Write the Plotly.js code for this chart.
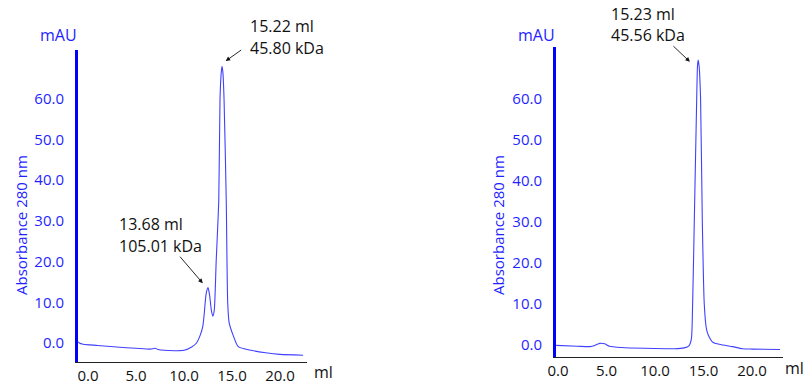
<!DOCTYPE html>
<html><head><meta charset="utf-8">
<script src="https://cdn.plot.ly/plotly-3.0.1.min.js"></script>
<style>html,body{margin:0;padding:0;background:#fff}#plot{width:806px;height:385px}</style>
</head><body><div id="plot"></div>
<script>
// Left chromatogram (elution volume ml, absorbance mAU)
const leftVolume = [-1.0,-0.9,-0.5,1,3,5,6.5,7.0,7.3,9,10.0,10.8,11.3,11.7,11.95,12.1,12.3,12.5,12.65,12.85,13.0,13.15,13.35,13.62,13.75,13.88,13.96,14.05,14.17,14.4,14.55,14.7,15.1,15.65,17,18.5,20,22.4];
const leftAbs    = [0.3,0.0,-0.3,-0.6,-1.0,-1.3,-1.5,-1.3,-1.6,-1.9,-1.8,-1.0,0.0,2,4,7,12,13.6,12,8,6.6,8,20,35,60,66.5,68,66.5,60,35,10,5,2,-0.9,-1.8,-2.4,-2.8,-3.0];
// Right chromatogram
const rightVolume = [-0.2,2,3.3,3.8,4.3,4.8,5.3,6.5,9,12,13.0,13.5,13.75,13.88,14.05,14.3,14.38,14.45,14.55,14.7,14.88,15.08,15.3,15.5,16.0,17.0,18.0,19.0,20,22.9];
const rightAbs    = [-0.1,-0.3,-0.4,-0.1,0.4,0.3,-0.3,-0.6,-0.8,-0.9,-0.7,-0.2,1.5,10,30,60,68,69.5,68,60,30,10,4,2.4,0.6,0.0,-0.4,-0.9,-1.0,-1.1];
const yTicks = [0,10,20,30,40,50,60];
const xTicks = [0,5,10,15,20];
const peakLabels = [
  {chart:'left', lines:['15.22 ml','45.80 kDa'], x:14.34, y:69.3},
  {chart:'left', lines:['13.68 ml','105.01 kDa'], x:11.95, y:14.7},
  {chart:'right', lines:['15.23 ml','45.56 kDa'], x:13.6, y:69.1}
];

const W = 806, H = 385;
const FONT = 'Open Sans, DejaVu Sans, sans-serif';
const BLUE = '#1f1fff';
const px = v => v / W, py = v => (H - v) / H;

const traces = [
  {x:leftVolume, y:leftAbs, xaxis:'x', yaxis:'y', mode:'lines', line:{color:'#4040ff', width:1.1, shape:'spline', smoothing:0.6}, hoverinfo:'skip'},
  {x:rightVolume, y:rightAbs, xaxis:'x2', yaxis:'y2', mode:'lines', line:{color:'#4040ff', width:1.1, shape:'spline', smoothing:0.6}, hoverinfo:'skip'}
];

function yAxis(domain, range, anchor){
  return {domain, range, anchor, tickvals:yTicks, tickformat:'.1f', showgrid:false, zeroline:false,
    showline:true, linecolor:'#0000ff', linewidth:3, ticks:'', ticklabelstandoff:8,
    tickfont:{family:FONT, size:15, color:BLUE}};
}
function xAxis(domain, range, anchor){
  return {domain, range, anchor, tickvals:xTicks, tickformat:'.1f', showgrid:false, zeroline:false,
    showline:true, linecolor:'#222', linewidth:1.2, ticks:'', ticklabelstandoff:0,
    tickfont:{family:FONT, size:15, color:'#111'}};
}

const annotations = [];
const txt = (text, x, y, color, xanchor, extra) => Object.assign({text, xref:'paper', yref:'paper', x:px(x), y:py(y), xanchor, yanchor:'middle', showarrow:false, font:{family:FONT, size:16, color}}, extra||{});
// mAU, ml, axis titles
annotations.push(txt('mAU', 79, 35, BLUE, 'right'));
annotations.push(txt('mAU', 557, 35, BLUE, 'right'));
annotations.push(txt('ml', 312, 372, '#111', 'left'));
annotations.push(txt('ml', 783, 368, '#111', 'left'));
annotations.push(txt('Absorbance 280 nm', 21, 225, BLUE, 'center', {textangle:-90, font:{family:FONT, size:15, color:BLUE}}));
annotations.push(txt('Absorbance 280 nm', 498, 225, BLUE, 'center', {textangle:-90, font:{family:FONT, size:15, color:BLUE}}));
// peak labels text
const textPos = [[248,26,48],[117,224,246],[609,14,35]];
const arrowOff = [[17,-12],[-24,-28],[-18,-17]];
peakLabels.forEach((p,i)=>{
  annotations.push(txt(p.lines[0], textPos[i][0], textPos[i][1], '#111', 'left'));
  annotations.push(txt(p.lines[1], textPos[i][0], textPos[i][2], '#111', 'left'));
  const r = p.chart === 'left' ? '' : '2';
  annotations.push({x:p.x, y:p.y, xref:'x'+r, yref:'y'+r, text:'', showarrow:true, arrowhead:2, arrowsize:1, arrowwidth:0.9, arrowcolor:'#111', ax:arrowOff[i][0], ay:arrowOff[i][1], axref:'pixel', ayref:'pixel'});
});

const layout = {
  width:W, height:H, margin:{l:0,r:0,t:0,b:0}, showlegend:false,
  paper_bgcolor:'#fff', plot_bgcolor:'#fff',
  xaxis: xAxis([px(78), px(307)], [-1.04, 22.81], 'y'),
  yaxis: yAxis([py(362), py(50)], [-4.67, 72.0], 'x'),
  xaxis2: xAxis([px(556), px(783)], [-0.21, 23.2], 'y2'),
  yaxis2: yAxis([py(357), py(47)], [-2.93, 72.7], 'x2'),
  annotations
};
Plotly.newPlot('plot', traces, layout, {staticPlot:true, displayModeBar:false});
</script></body></html>
